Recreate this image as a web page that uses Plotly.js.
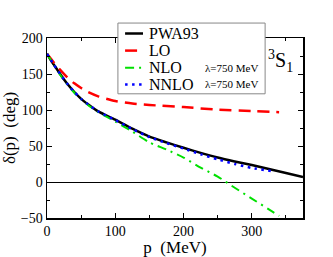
<!DOCTYPE html>
<html><head><meta charset="utf-8">
<script src="https://cdn.plot.ly/plotly-3.0.1.min.js"></script>
<style>body{margin:0;padding:0;background:#fff}#chart{width:333px;height:257px}</style>
</head><body><div id="chart"></div>
<script>
const pwaP = [0, 5, 10, 20, 30, 40, 50, 60, 75, 100, 125, 150, 175, 200, 225, 250, 275, 300, 325, 350, 375];
const pwaD = [178, 170, 163, 149, 136, 125, 115.5, 108, 98, 86.5, 74, 63, 55, 47.5, 40.5, 34, 28.5, 23.5, 18, 12.5, 7];
const loP = [0, 10, 20, 30, 40, 50, 60, 75, 100, 125, 150, 200, 250, 300, 340];
const loD = [178, 166, 155, 145, 137, 130.5, 125, 119, 112.5, 109, 107, 104, 100.5, 98.5, 97];
const nloP = [0, 10, 20, 30, 40, 50, 60, 75, 100, 125, 150, 175, 200, 225, 250, 275, 300, 325, 340];
const nloD = [178, 163, 148, 135, 124, 115, 107, 97, 84, 70, 55, 45, 34, 20, 7.5, -8, -23, -38, -47];
const nnloP = [0, 10, 20, 30, 40, 50, 60, 75, 100, 125, 150, 175, 200, 225, 250, 275, 300, 330];
const nnloD = [178, 163, 149, 136, 125, 115.5, 108, 98, 86, 73.5, 62.5, 54, 46.5, 38.5, 31.5, 25, 19.5, 15];
const names = ["PWA93", "LO", "NLO", "NNLO"];
const lambdaLabel = "λ=750 MeV";

const serif = "Liberation Serif, Times New Roman, serif";
const colors = ["#000000", "#ff0000", "#00e000", "#0000ff"];
const widths = [2.5, 2.5, 2, 2.5];
const dashes = ["solid", "12px,7px", "9px,5px,2px,5px", "2.5px,4.5px"];
const xs = [pwaP, loP, nloP, nnloP];
const ys = [pwaD, loD, nloD, nnloD];
const traces = names.map((n, i) => ({
  x: xs[i], y: ys[i], name: n, mode: "lines", showlegend: false,
  line: {color: colors[i], width: widths[i], dash: dashes[i], shape: "spline", smoothing: 0.6}
}));

// manual legend (paper coordinates)
const rowsY = [1.025, 0.93, 0.835, 0.742];
const shapes = [{type: "rect", xref: "paper", yref: "paper", x0: 0.277, x1: 0.852, y0: 0.69, y1: 1.083,
  line: {color: "#888", width: 1}, fillcolor: "#fff", layer: "above"}];
const annotations = [];
names.forEach((n, i) => {
  shapes.push({type: "line", xref: "paper", yref: "paper", x0: 0.305, x1: 0.375, y0: rowsY[i], y1: rowsY[i],
    line: {color: colors[i], width: widths[i], dash: dashes[i]}, layer: "above"});
  annotations.push({xref: "paper", yref: "paper", x: 0.392, y: rowsY[i], xanchor: "left", yanchor: "middle",
    text: n, showarrow: false, font: {family: serif, size: 16, color: "#000"}});
});
[2, 3].forEach(i => annotations.push({xref: "paper", yref: "paper", x: 0.61, y: rowsY[i], xanchor: "left", yanchor: "middle",
  text: lambdaLabel, showarrow: false, font: {family: serif, size: 11, color: "#000"}}));
annotations.push({xref: "paper", yref: "paper", x: 0.97, y: 0.875, xanchor: "right", yanchor: "middle",
  text: "<sup>3</sup>S<sub>1</sub>", showarrow: false, font: {family: serif, size: 20, color: "#000"}});

const axisCommon = {
  showline: true, linecolor: "#000", linewidth: 1.5, mirror: "ticks",
  ticks: "inside", ticklen: 5, tickwidth: 1, tickcolor: "#000",
  showgrid: false, tickfont: {family: serif, size: 14, color: "#000"}
};
const layout = {
  width: 333, height: 257,
  margin: {l: 47, r: 30, t: 38, b: 39},
  paper_bgcolor: "#fff", plot_bgcolor: "#fff",
  showlegend: false,
  xaxis: Object.assign({}, axisCommon, {range: [0, 375], dtick: 100, tick0: 0,
    zeroline: false, ticklabelstandoff: 0,
    minor: {ticks: "inside", ticklen: 3, dtick: 50, tickcolor: "#000", showgrid: false},
    title: {text: "p  (MeV)", font: {family: serif, size: 17, color: "#000"}, standoff: 3}}),
  yaxis: Object.assign({}, axisCommon, {range: [-50, 200], dtick: 50, tick0: 0,
    zeroline: true, zerolinecolor: "#000", zerolinewidth: 1,
    minor: {ticks: "inside", ticklen: 3, dtick: 25, tickcolor: "#000", showgrid: false},
    title: {text: "δ(p)  (deg)", font: {family: serif, size: 17, color: "#000"}, standoff: 3}}),
  shapes: shapes,
  annotations: annotations
};
Plotly.newPlot("chart", traces, layout, {displayModeBar: false, staticPlot: true});
</script></body></html>
